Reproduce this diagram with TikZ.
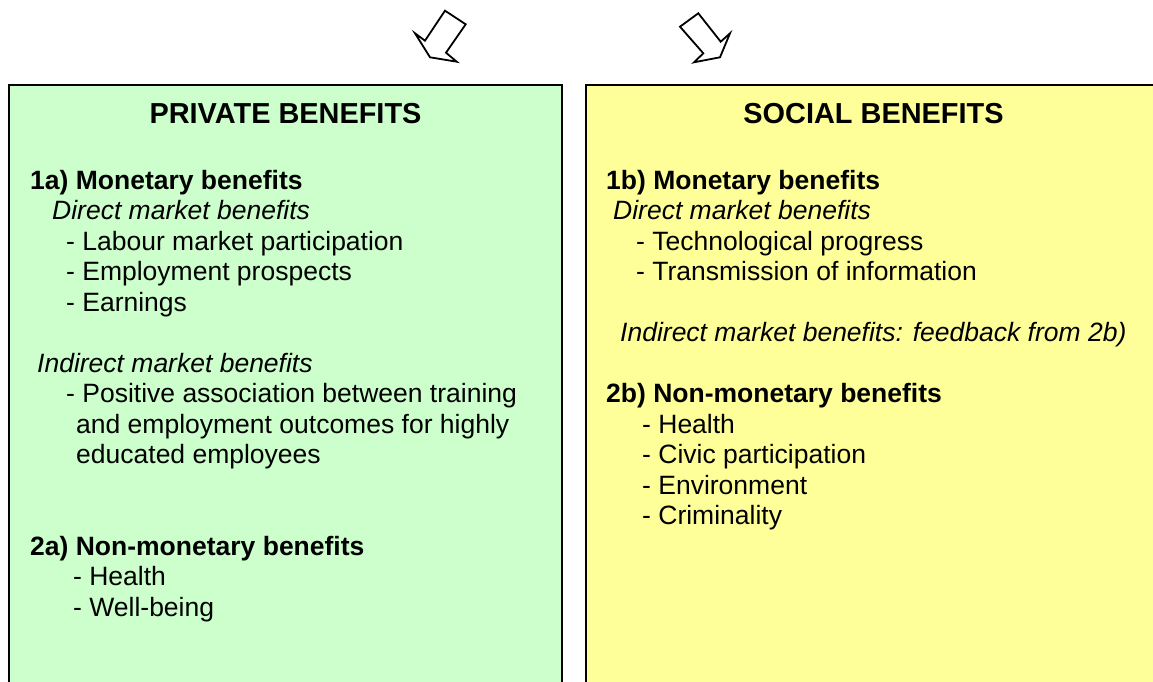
\documentclass[tikz,border=0pt]{standalone}
\usepackage{fontspec}
\setmainfont{Liberation Sans}
\definecolor{pgreen}{HTML}{CCFFCC}
\definecolor{syellow}{HTML}{FFFF99}
\tikzset{
  panel/.style={draw=black, line width=2pt},
  blockarrow/.style={draw=black, fill=white, line width=1.8pt, line join=miter},
  txt/.style={anchor=base west, inner sep=0pt, font=\fontsize{26.5}{30.5}\selectfont},
  bold/.style={txt, font=\fontsize{26.5}{30.5}\selectfont\bfseries},
  ital/.style={txt, font=\fontsize{26.5}{30.5}\selectfont\itshape},
  ttl/.style={anchor=base, inner sep=0pt, font=\fontsize{28.9}{33}\selectfont\bfseries}
}
\begin{document}
\begin{tikzpicture}[x=1pt,y=-1pt]
\useasboundingbox (0,0) rectangle (1153,682);
\clip (0,0) rectangle (1153,682);
% panels
\draw[panel, fill=pgreen] (9,85) rectangle (562,700);
\draw[panel, fill=syellow] (586,85) rectangle (1175,700);
% block arrows
\draw[blockarrow] (445,10.7) -- (465.7,24.3) -- (446,52.7) -- (456.7,61.7) -- (430,57.3) -- (415,33.3) -- (425,40.7) -- cycle;
\draw[blockarrow] (698.3,13.3) -- (680,26.7) -- (703.3,53.3) -- (694,62.3) -- (720,57.3) -- (730,33.3) -- (720.7,41.7) -- cycle;
% left panel
\node[ttl] (pt) at (285.5,123.5) {PRIVATE BENEFITS};
\node[bold] (l1) at (30,189) {1a) Monetary benefits};
\node[ital] (l2) at (52,219.5) {Direct market benefits};
\node[txt] (l3) at (66,250) {- Labour market participation};
\node[txt] (l4) at (66,280.5) {- Employment prospects};
\node[txt] (l5) at (66,311) {- Earnings};
\node[ital] (l6) at (37,372) {Indirect market benefits};
\node[txt] (l7) at (66,402.5) {- Positive association between training};
\node[txt] (l8) at (76,433) {and employment outcomes for highly};
\node[txt] (l9) at (76,463.5) {educated employees};
\node[bold] (l10) at (30,555) {2a) Non-monetary benefits};
\node[txt] (l11) at (73,585.5) {- Health};
\node[txt] (l12) at (73,616) {- Well-being};
% right panel
\node[ttl] (st) at (873.5,123.5) {SOCIAL BENEFITS};
\node[bold] (r1) at (606,189) {1b) Monetary benefits};
\node[ital] (r2) at (613,219.5) {Direct market benefits};
\node[txt] (r3) at (636,250) {- Technological progress};
\node[txt] (r4) at (636,280.5) {- Transmission of information};
\node[ital] (r5) at (620,341.5) {Indirect market benefits: feedback from 2b)};
\node[bold] (r6) at (606,402.5) {2b) Non-monetary benefits};
\node[txt] (r7) at (642,433) {- Health};
\node[txt] (r8) at (642,463.5) {- Civic participation};
\node[txt] (r9) at (642,494) {- Environment};
\node[txt] (r10) at (642,524.5) {- Criminality};
\end{tikzpicture}
\end{document}
